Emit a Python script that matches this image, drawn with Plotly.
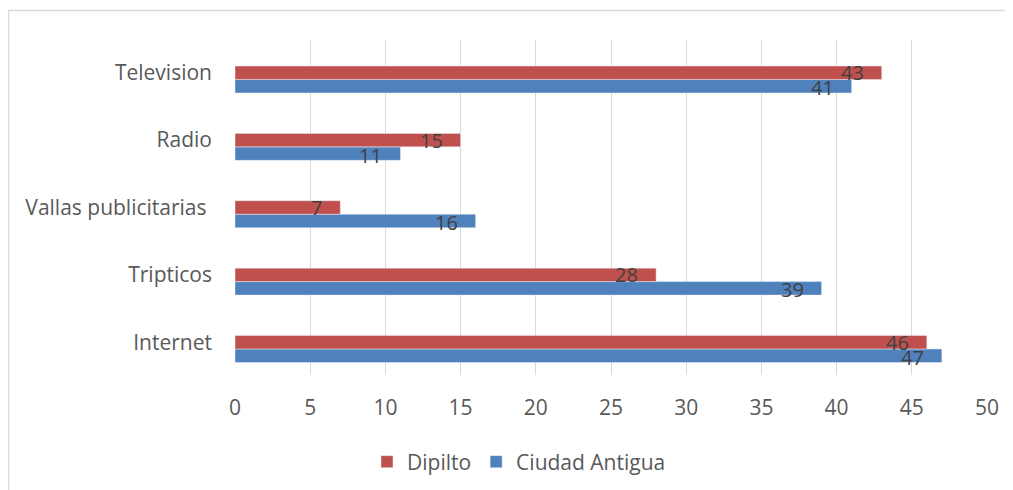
import plotly.graph_objects as go

categories = ["Internet", "Tripticos", "Vallas publicitarias\u00a0", "Radio", "Television"]
dipilto = [46, 28, 7, 15, 43]
ciudad_antigua = [47, 39, 16, 11, 41]

RED = "#C0504D"
BLUE = "#4F81BD"
FONT = "'Open Sans', sans-serif"

# the page puts the figure 8px in from the top-left corner
W, H = 1005, 482
L, R, T, B = 227, 26, 32, 115
pw, ph = W - L - R, H - T - B


def px(x):
    return (x - L) / pw


def py(y):
    return (H - B - y) / ph


fig = go.Figure()
# bars sit a little below the middle of each category band, like the original
fig.add_trace(go.Bar(y=categories, x=ciudad_antigua, name="Ciudad Antigua",
                     orientation="h", marker_color=BLUE, width=0.2, offset=-0.3))
fig.add_trace(go.Bar(y=categories, x=dipilto, name="Dipilto",
                     orientation="h", marker_color=RED, width=0.2, offset=-0.1))

# data labels sit just inside the bar ends
for vals, shift in ((ciudad_antigua, -15), (dipilto, 0)):
    for c, v in zip(categories, vals):
        fig.add_annotation(x=v, y=c, text=str(v), showarrow=False,
                           xanchor="right", xshift=-16, yshift=shift,
                           font=dict(size=20, color="#404040", family=FONT))

fig.update_layout(
    width=W, height=H,
    margin=dict(l=L, r=R, t=T, b=B),
    barmode="overlay",
    plot_bgcolor="white", paper_bgcolor="white",
    font=dict(family=FONT, color="#595959", size=21),
    legend=dict(orientation="h", x=px(511), xanchor="center",
                yref="container", y=(H - 454) / H, yanchor="middle",
                traceorder="reversed", font=dict(size=21, color="#595959")),
    shapes=[
        dict(type="line", xref="paper", yref="paper", x0=px(0), x1=px(W),
             y0=py(2.5), y1=py(2.5), line=dict(color="#D9D9D9", width=1.5)),
        dict(type="line", xref="paper", yref="paper", x0=px(0.5), x1=px(0.5),
             y0=py(2.5), y1=py(H), line=dict(color="#D9D9D9", width=1.5)),
    ],
)
fig.update_xaxes(range=[0, 50], dtick=5, showgrid=True, gridcolor="#D9D9D9",
                 gridwidth=1, zeroline=False, ticks="", ticklabelstandoff=18)
fig.update_yaxes(range=[-0.486, 4.486], showgrid=False, ticks="", ticklabelstandoff=22,
                 showline=False)

fig.write_html("out.html")
